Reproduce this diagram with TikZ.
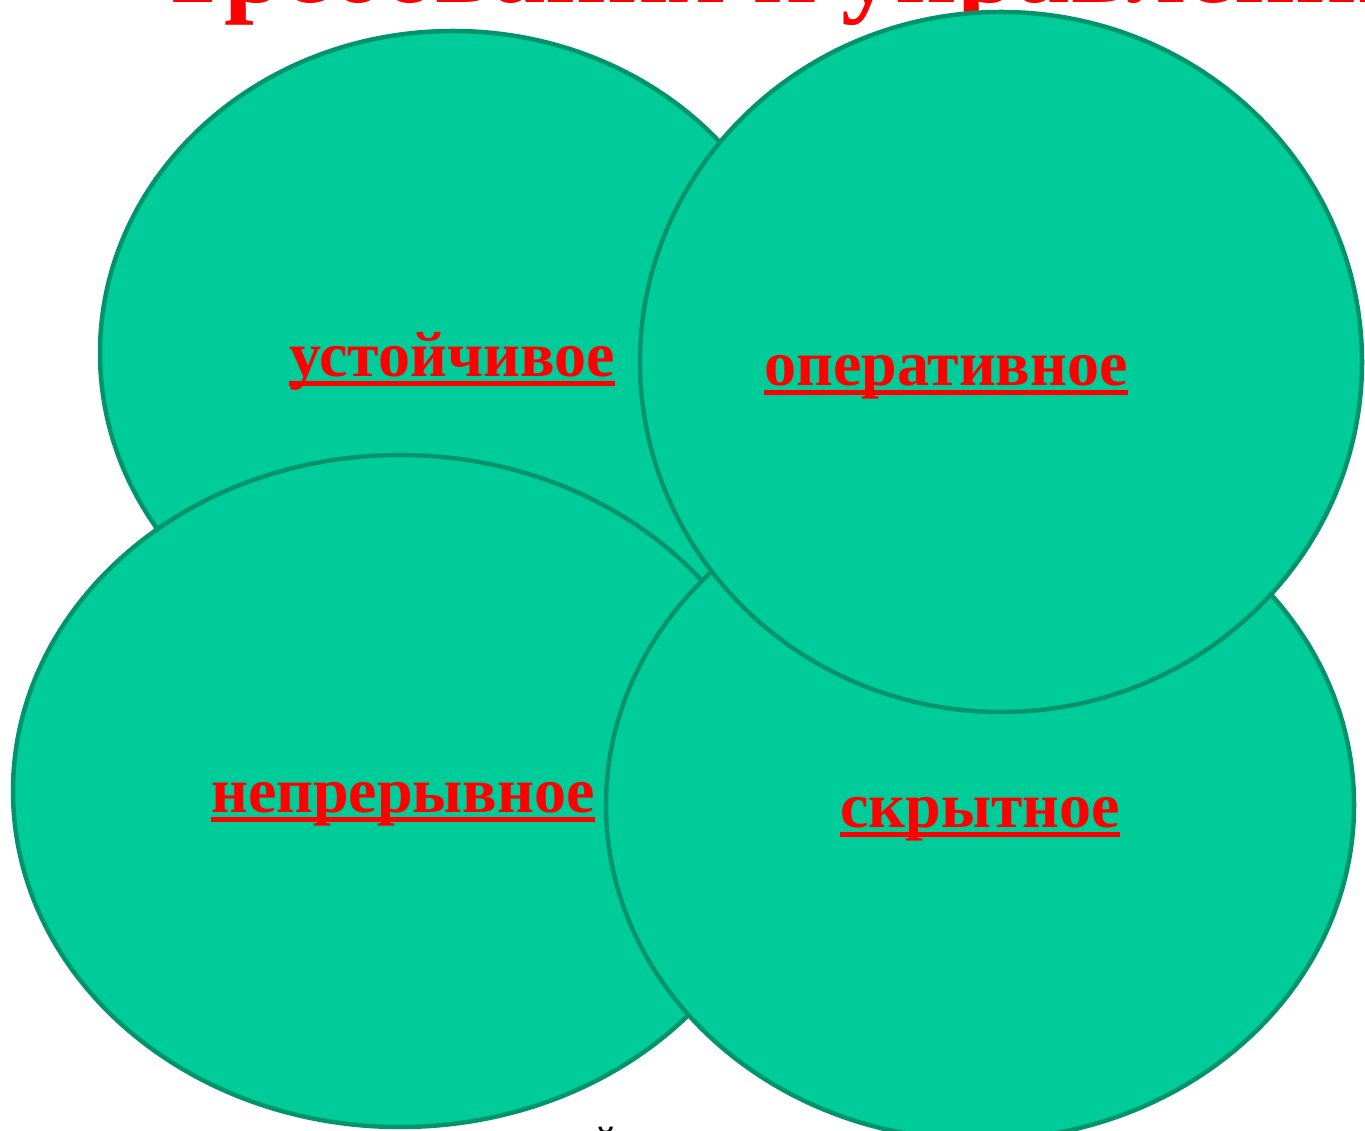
\documentclass[tikz,border=0pt]{standalone}
\usepackage{fontspec}
\setmainfont{Liberation Serif}
\usetikzlibrary{shapes.geometric}
\definecolor{blobfill}{RGB}{0,204,153}
\definecolor{blobline}{RGB}{0,148,108}
\definecolor{lblred}{RGB}{255,0,0}
\tikzset{
  blob/.style={ellipse, draw=blobline, fill=blobfill, line width=4.5pt, inner sep=0pt},
  lbl/.style={text=lblred, font=\fontsize{64}{70}\selectfont\bfseries, inner sep=0pt, anchor=base},
  uline/.style={draw=lblred, line width=5pt},
  ttl/.style={text=lblred, font=\fontsize{107}{110}\selectfont\bfseries, inner sep=0pt, anchor=base west}
}
\newcommand{\ulbl}[3]{%
  \node[lbl] (#1) at (#2) {#3};
  \draw[uline] ([yshift=-7pt]#1.base west) -- ([yshift=-7pt]#1.base east);
}
\begin{document}
\begin{tikzpicture}[x=1pt,y=1pt]
\useasboundingbox (0,0) rectangle (1365,1130);
\clip (0,0) rectangle (1365,1130);
\fill[white] (0,0) rectangle (1365,1130);
% title, clipped at top
\node[ttl] (title) at (157,1127) {Требования к управлению};
% bottom clipped text
\node[font=\fontsize{40}{44}\selectfont, inner sep=0pt, anchor=base] (foot) at (606,-24) {й};
% ellipses
\node[blob, minimum width=706pt, minimum height=644pt] (e1) at (453,777) {};
\node[blob, minimum width=774pt, minimum height=672pt] (e3) at (400,339) {};
\node[blob, minimum width=748pt, minimum height=670pt] (e4) at (980,325) {};
\node[blob, minimum width=722pt, minimum height=700pt] (e2) at (1001,768) {};
% labels
\ulbl{t1}{452,753}{устойчивое}
\ulbl{t2}{946,744}{оперативное}
\ulbl{t3}{403,317}{непрерывное}
\ulbl{t4}{980,302}{скрытное}
\end{tikzpicture}
\end{document}
